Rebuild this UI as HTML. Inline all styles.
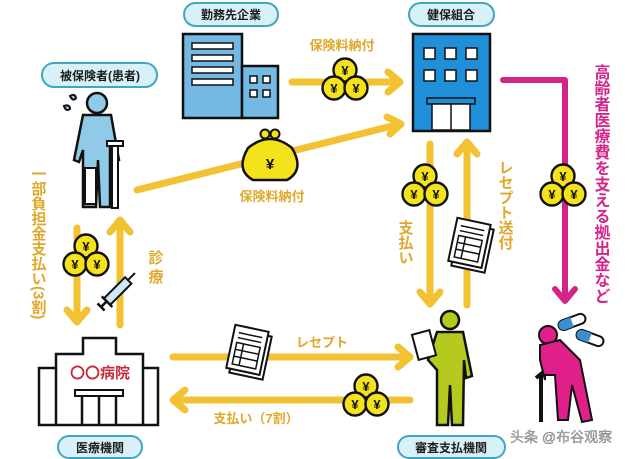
<!DOCTYPE html>
<html><head><meta charset="utf-8">
<style>
html,body{margin:0;padding:0;background:#fff;}
svg{display:block;}
text{font-family:"Liberation Sans","Noto Sans CJK JP",sans-serif;}
</style></head><body>
<svg width="640" height="459" viewBox="0 0 640 459" xmlns="http://www.w3.org/2000/svg">
<defs>
<g id="coin"><circle r="11.5" fill="#f4e21c" stroke="#111" stroke-width="2.4"/><text y="5" text-anchor="middle" font-size="13" font-weight="bold" fill="#111">¥</text></g>
<g id="coins"><use href="#coin" x="0" y="-10"/><use href="#coin" x="-11" y="8"/><use href="#coin" x="11" y="8"/></g>
<g id="doc"><rect x="-14" y="-20" width="34" height="44" fill="#fff" stroke="#111" stroke-width="2" transform="rotate(12)"/><rect x="-18" y="-24" width="34" height="44" fill="#fff" stroke="#111" stroke-width="2" transform="rotate(12)"/><g transform="rotate(12)" stroke="#111" stroke-width="1.5"><line x1="-13" y1="-17" x2="11" y2="-17"/><line x1="-13" y1="-12" x2="11" y2="-12"/><rect x="-13" y="-7" width="24" height="22" fill="none"/><line x1="-13" y1="0" x2="11" y2="0"/><line x1="-13" y1="7" x2="11" y2="7"/><line x1="-6" y1="-7" x2="-6" y2="15"/></g></g>
</defs>
<g fill="#1b1b1b" font-size="12" font-weight="bold" text-anchor="middle">
<rect x="184" y="3" width="94" height="23" rx="11.5" fill="#d8f0f8" stroke="#3ea8c0" stroke-width="2"/><text x="231" y="19">勤務先企業</text>
<rect x="42" y="63" width="115" height="24" rx="12" fill="#d8f0f8" stroke="#3ea8c0" stroke-width="2"/><text x="100" y="80">被保険者(患者)</text>
<rect x="409" y="3" width="85" height="23" rx="11.5" fill="#d8f0f8" stroke="#3ea8c0" stroke-width="2"/><text x="451" y="19">健保組合</text>
<rect x="58" y="436" width="84" height="22" rx="11" fill="#d8f0f8" stroke="#3ea8c0" stroke-width="2"/><text x="100" y="452">医療機関</text>
<rect x="398" y="436" width="107" height="22" rx="11" fill="#d8f0f8" stroke="#3ea8c0" stroke-width="2"/><text x="451" y="452">審査支払機関</text>
</g>
<!-- company -->
<rect x="183" y="34" width="59" height="84" fill="#74b9e3" stroke="#111" stroke-width="2.5"/>
<rect x="242" y="66" width="36" height="52" fill="#74b9e3" stroke="#111" stroke-width="2.5"/>
<g fill="#fff" stroke="#111" stroke-width="1.5"><rect x="192" y="43" width="41" height="6"/><rect x="192" y="55" width="41" height="6"/><rect x="192" y="67" width="41" height="6"/><rect x="192" y="79" width="41" height="6"/>
<rect x="250" y="76" width="7" height="7"/><rect x="263" y="76" width="7" height="7"/><rect x="250" y="90" width="7" height="7"/><rect x="263" y="90" width="7" height="7"/></g>
<!-- kenpo -->
<rect x="413" y="34" width="77" height="97" fill="#1e8fd8" stroke="#111" stroke-width="2.5"/>
<g fill="#fff" stroke="#111" stroke-width="1.5"><rect x="424" y="48" width="11" height="11"/><rect x="445" y="48" width="11" height="11"/><rect x="466" y="48" width="11" height="11"/><rect x="424" y="70" width="11" height="11"/><rect x="445" y="70" width="11" height="11"/><rect x="466" y="70" width="11" height="11"/>
<rect x="427" y="98" width="48" height="6" fill="#1e8fd8"/><rect x="432" y="104" width="38" height="26"/><line x1="451" y1="104" x2="451" y2="130"/></g>
<!-- yellow arrows -->
<g stroke="#f2c232" stroke-width="7" fill="none" stroke-linecap="round" stroke-linejoin="round">
<line x1="292" y1="82" x2="398" y2="82"/><polyline points="388,72 400,82 388,92"/>
<line x1="137" y1="190" x2="400" y2="124"/><polyline points="387,117 401,124 390,134"/>
<line x1="430" y1="144" x2="430" y2="302"/><polyline points="420,292 430,304 440,292"/>
<line x1="467" y1="305" x2="467" y2="144"/><polyline points="457,154 467,142 477,154"/>
<line x1="77" y1="228" x2="77" y2="320"/><polyline points="67,310 77,322 87,310"/>
<line x1="120" y1="325" x2="120" y2="222"/><polyline points="110,232 120,220 130,232"/>
<line x1="173" y1="357" x2="408" y2="357"/><polyline points="398,347 410,357 398,367"/>
<line x1="410" y1="400" x2="175" y2="400"/><polyline points="185,390 173,400 185,410"/>
</g>
<!-- magenta -->
<g stroke="#d52488" stroke-width="6" fill="none" stroke-linecap="round" stroke-linejoin="round">
<polyline points="503,80 565,80 565,300"/><polyline points="555,289 565,301 575,289"/></g>
<!-- coins -->
<use href="#coins" x="345" y="80"/><use href="#coins" x="425" y="186"/><use href="#coins" x="563" y="186"/><use href="#coins" x="86" y="256"/><use href="#coins" x="366" y="396"/>
<!-- purse -->
<circle cx="265" cy="134" r="4.5" fill="#f4e21c" stroke="#111" stroke-width="2"/><circle cx="275" cy="134" r="4.5" fill="#f4e21c" stroke="#111" stroke-width="2"/>
<path d="M248,148 Q270,130 292,148 Q305,170 287,180 L253,180 Q235,170 248,148Z" fill="#f4e21c" stroke="#111" stroke-width="2.5"/>
<text x="270" y="169" text-anchor="middle" font-size="15" font-weight="bold" fill="#111">¥</text>
<!-- docs -->
<use href="#doc" x="248" y="352"/><use href="#doc" x="470" y="245"/>
<!-- patient -->
<circle cx="97" cy="103" r="10" fill="#8fcbe8" stroke="#111" stroke-width="2.5"/>
<path d="M83,115 L111,115 L119,160 L113,162 L110,145 L110,207 L100,207 L98,160 L96,207 L83,207 L83,150 L79,162 L74,160Z" fill="#8fcbe8" stroke="#111" stroke-width="2.5"/>
<rect x="85" y="168" width="11" height="36" fill="#fff" stroke="#111" stroke-width="2"/>
<rect x="112" y="143" width="6" height="65" fill="#fff" stroke="#111" stroke-width="2"/><rect x="107" y="141" width="16" height="5" fill="#fff" stroke="#111" stroke-width="2"/>
<path d="M70,96 q5,-3 6,2 q-3,4 -6,-2z M64,106 q6,-2 6,3 q-4,3 -6,-3z" fill="#8fcbe8" stroke="#111" stroke-width="2"/>
<!-- syringe -->
<g transform="translate(118,290) rotate(-45)"><rect x="-16" y="-4" width="30" height="9" fill="#cfe8f5" stroke="#111" stroke-width="2"/><line x1="14" y1="0" x2="24" y2="0" stroke="#111" stroke-width="2"/><line x1="-16" y1="-7" x2="-16" y2="8" stroke="#111" stroke-width="2.5"/><line x1="-24" y1="0" x2="-16" y2="0" stroke="#111" stroke-width="2.5"/><line x1="-24" y1="-5" x2="-24" y2="5" stroke="#111" stroke-width="2.5"/></g>
<!-- hospital -->
<path d="M83,338 L116,338 L116,354 L143,354 L143,368 L158,368 L158,425 L39,425 L39,368 L56,368 L56,354 L83,354Z" fill="#fff" stroke="#111" stroke-width="2.5"/>
<line x1="56" y1="368" x2="56" y2="425" stroke="#111" stroke-width="2.5"/><line x1="143" y1="368" x2="143" y2="425" stroke="#111" stroke-width="2.5"/>
<rect x="75" y="390" width="48" height="6" fill="#fff" stroke="#111" stroke-width="2"/>
<g stroke="#111" stroke-width="2.5"><line x1="82" y1="396" x2="82" y2="425"/><line x1="99" y1="396" x2="99" y2="425"/><line x1="116" y1="396" x2="116" y2="425"/></g>
<text x="100" y="378" text-anchor="middle" font-size="15" font-weight="bold" fill="#c8283a">〇〇病院</text>
<!-- shinsa person -->
<circle cx="450" cy="320" r="9" fill="#b6c91e" stroke="#111" stroke-width="2.5"/>
<path d="M437,332 L463,332 L472,376 L466,378 L464,360 L463,425 L452,425 L450,385 L448,425 L437,425 L437,370 L428,360Z" fill="#b6c91e" stroke="#111" stroke-width="2.5"/>
<rect x="415" y="332" width="18" height="26" fill="#fff" stroke="#111" stroke-width="2" transform="rotate(-15 424 345)"/>
<!-- elderly -->
<circle cx="548" cy="335" r="9" fill="#e01f8a" stroke="#111" stroke-width="2"/>
<path d="M540,345 L560,340 L580,360 L592,420 L582,422 L572,385 L568,420 L558,420 L555,375 L545,375 L545,380 L540,360Z" fill="#e01f8a" stroke="#111" stroke-width="2"/>
<path d="M536,378 L541,374 L541,422" fill="none" stroke="#111" stroke-width="4"/>
<g transform="translate(572,322) rotate(-20)"><rect x="-14" y="-5" width="28" height="10" rx="5" fill="#fff" stroke="#111" stroke-width="2"/><path d="M-14,0 a5,5 0 0 1 5,-5 h9 v10 h-9 a5,5 0 0 1 -5,-5z" fill="#3a8fd0"/></g>
<g transform="translate(590,338) rotate(20)"><rect x="-14" y="-5" width="28" height="10" rx="5" fill="#fff" stroke="#111" stroke-width="2"/><path d="M-14,0 a5,5 0 0 1 5,-5 h9 v10 h-9 a5,5 0 0 1 -5,-5z" fill="#3a8fd0"/></g>
<!-- labels -->
<g fill="#e0a82a" font-weight="bold">
<text x="342" y="50" text-anchor="middle" font-size="13">保険料納付</text>
<text x="272" y="201" text-anchor="middle" font-size="13">保険料納付</text>
<text x="322" y="347" text-anchor="middle" font-size="13">レセプト</text>
<text x="256" y="423" text-anchor="middle" font-size="13">支払い（7割）</text>
<text x="38" y="166" style="writing-mode:vertical-rl" font-size="15">一部負担金支払い(3割)</text>
<text x="155" y="250" style="writing-mode:vertical-rl" font-size="15" letter-spacing="4">診療</text>
<text x="405" y="220" style="writing-mode:vertical-rl" font-size="15">支払い</text>
<text x="505" y="160" style="writing-mode:vertical-rl" font-size="15">レセプト送付</text>
</g>
<text x="600" y="64" style="writing-mode:vertical-rl" fill="#d5258a" font-size="16" font-weight="bold">高齢者医療費を支える拠出金など</text>
<text x="510" y="442" font-size="14" fill="#bbb" stroke="#555" stroke-width="0.3">头条 @布谷观察</text>
</svg>
</body></html>
